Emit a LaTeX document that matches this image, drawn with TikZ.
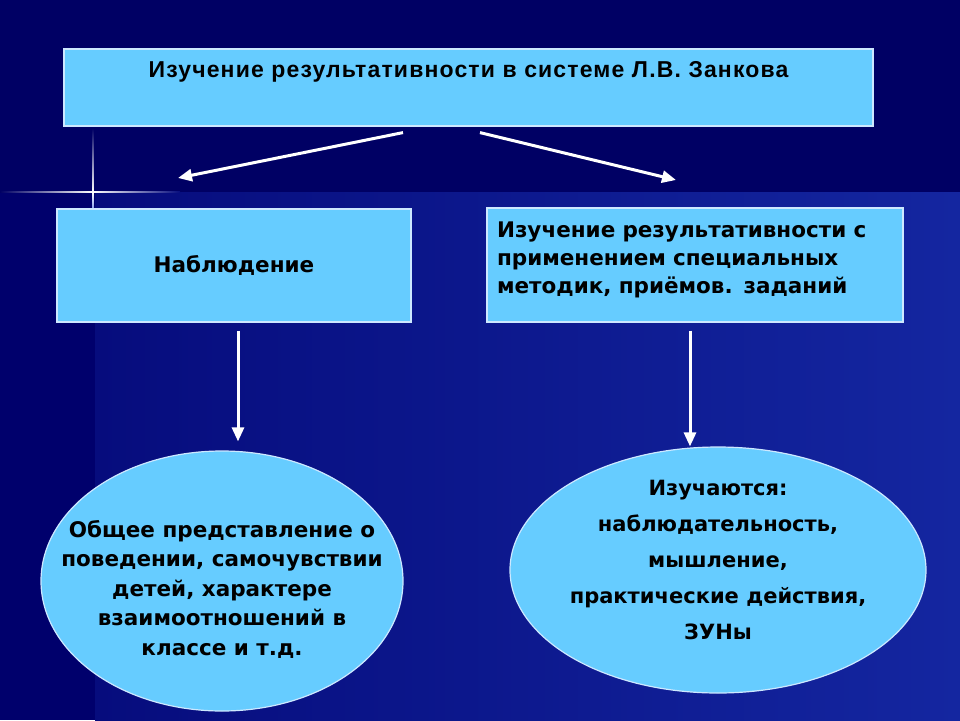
\documentclass[tikz,border=0pt]{standalone}
\usepackage{fontspec}
\setmainfont{DejaVu Sans}
\newfontfamily\titlefont[LetterSpace=5]{Liberation Sans}
\usetikzlibrary{positioning, shapes.geometric, arrows.meta, calc}

\definecolor{slidenavy}{RGB}{0,0,100}
\definecolor{stripnavy}{RGB}{0,0,108}
\definecolor{lowblueleft}{RGB}{6,12,125}
\definecolor{lowblueright}{RGB}{20,38,160}
\definecolor{flareblue}{RGB}{40,80,220}
\definecolor{boxfill}{RGB}{102,204,255}
\definecolor{boxedge}{RGB}{205,232,255}

\begin{document}
\begin{tikzpicture}[x=1pt, y=-1pt]
    \tikzset{
        level box/.style={
                draw=boxedge, line width=1.2pt, fill=boxfill, inner sep=0pt,
                text=black, font=\bfseries\fontsize{21.5}{28}\selectfont
            },
        result oval/.style={
                ellipse, draw=boxedge, line width=1.2pt, fill=boxfill, inner sep=0pt
            },
        oval text/.style={
                align=center, text=black, inner sep=0pt
            },
        flow arrow/.style={
                draw=white, line width=3pt, -{Triangle[length=14pt, width=12pt]}
            }
    }

    % background of the slide
    \fill[slidenavy] (0,0) rectangle (960,720);
    \fill[stripnavy] (0,192) rectangle (95,720);
    \shade[left color=lowblueleft, right color=lowblueright] (95,192) rectangle (960,720);

    % lens flare
    \shade[left color=slidenavy, right color=white] (0,191.2) rectangle (93,192.8);
    \shade[left color=white, right color=lowblueleft] (93,191.2) rectangle (180,192.8);
    \shade[top color=slidenavy, bottom color=white] (92.3,128) rectangle (93.9,192);
    \shade[top color=white, bottom color=flareblue!60!white] (92.3,192) rectangle (93.9,210);

    % boxes
    \node[level box, minimum width=809pt, minimum height=77pt, text height=17pt, text depth=38pt,
        font=\titlefont\bfseries\fontsize{23}{26}\selectfont] (zankov) at (468.5,87.5)
        {Изучение результативности в системе Л.В. Занкова};
    \node[level box, minimum width=354pt, minimum height=113pt] (observe) at (234,265.5) {Наблюдение};
    \node[level box, minimum width=416pt, minimum height=114pt, text width=396pt, align=left,
        text depth=70pt] (methods) at (695,265)
        {Изучение результативности с\\ применением специальных\\ методик, приёмов. заданий};

    % ovals
    \node[result oval, minimum width=362pt, minimum height=260pt] (general) at (222,581) {};
    \node[oval text, font=\bfseries\fontsize{21.5}{29.5}\selectfont] (general text) at (222,589)
        {Общее представление о\\ поведении, самочувствии\\ детей, характере\\ взаимоотношений в\\ классе и т.д.};
    \node[result oval, minimum width=416pt, minimum height=246pt] (studied) at (718,570) {};
    \node[oval text, font=\bfseries\fontsize{21}{36}\selectfont] (studied text) at (718,560)
        {Изучаются:\\ наблюдательность,\\ мышление,\\ практические действия,\\ ЗУНы};

    % arrows
    \coordinate (left tip) at (178,178);
    \coordinate (right tip) at (676,180);
    \draw[flow arrow] ($(zankov.south)+(-65.5,6)$) -- (left tip);
    \draw[flow arrow] ($(zankov.south)+(11.5,6)$) -- (right tip);
    \draw[flow arrow] ($(observe.south)+(4,8)$) -- ($(general.north)+(16,-9)$);
    \draw[flow arrow] ($(methods.south)+(-5,8)$) -- ($(studied.north)+(-28,0)$);
\end{tikzpicture}
\end{document}
